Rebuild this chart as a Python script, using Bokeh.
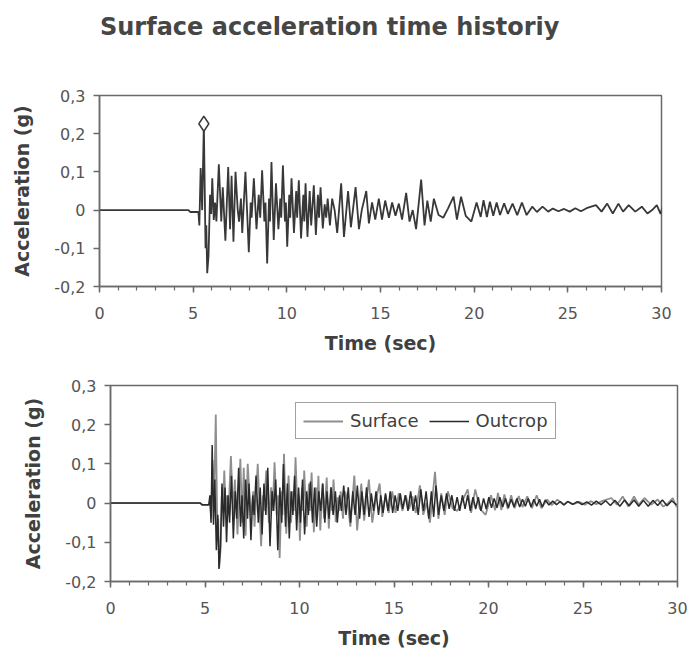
from bokeh.plotting import figure
from bokeh.models import Range1d, FixedTicker, CustomJSTickFormatter, Legend, LegendItem, Div
from bokeh.layouts import column, row
from bokeh.embed import file_html
from bokeh.resources import INLINE

# ---------------- DATA ----------------
title_text = "Surface acceleration time historiy"
x_label = "Time (sec)"
y_label = "Acceleration (g)"
x_ticks = [0, 5, 10, 15, 20, 25, 30]
x_minor = list(range(0, 31))
y_ticks = [-0.2, -0.1, 0.0, 0.1, 0.2, 0.3]

# Surface acceleration, turning points (time s, acceleration g)
surface_t = [0.0, 4.75, 4.85, 5.28, 5.33, 5.40, 5.48, 5.57, 5.66, 5.70, 5.75, 5.82, 5.90, 5.96,
             6.02, 6.10, 6.17, 6.24, 6.37, 6.50, 6.58, 6.72, 6.87, 6.97, 7.05, 7.15, 7.26, 7.38,
             7.45, 7.55, 7.62, 7.79, 7.97, 8.07, 8.12, 8.24, 8.38, 8.50, 8.58, 8.68, 8.80, 8.86,
             8.95, 9.05, 9.10, 9.18, 9.30, 9.42, 9.55, 9.65, 9.70, 9.79, 9.90, 9.95, 10.02, 10.13,
             10.18, 10.25, 10.38, 10.50, 10.55, 10.64, 10.76, 10.88, 10.93, 11.00, 11.10, 11.22,
             11.30, 11.44, 11.55, 11.66, 11.72, 11.80, 11.92, 12.02, 12.10, 12.18, 12.30, 12.42,
             12.55, 12.69, 12.90, 13.05, 13.27, 13.42, 13.67, 13.85, 14.00, 14.24, 14.38, 14.55,
             14.72, 14.91, 15.08, 15.25, 15.45, 15.62, 15.80, 15.98, 16.15, 16.37, 16.55, 16.72,
             16.90, 17.17, 17.35, 17.50, 17.68, 17.85, 18.10, 18.35, 18.60, 18.90, 19.08, 19.30,
             19.55, 19.85, 20.13, 20.35, 20.50, 20.68, 20.84, 21.02, 21.20, 21.38, 21.60, 21.80,
             22.05, 22.30, 22.55, 22.80, 23.10, 23.35, 23.65, 23.95, 24.20, 24.50, 24.80, 25.10,
             25.40, 25.70, 26.00, 26.50, 26.80, 27.10, 27.40, 27.70, 27.95, 28.25, 28.60, 28.95,
             29.25, 29.50, 29.75, 29.95, 30.10]
surface_a = [0.0, 0.0, -0.005, -0.005, -0.04, 0.11, 0.0, 0.226, -0.10, -0.04, -0.165, -0.12, 0.04, -0.01,
             0.083, -0.026, 0.02, -0.03, 0.12, -0.03, 0.06, -0.08, 0.113, -0.05, 0.09, -0.083, 0.10, 0.0,
             -0.03, 0.03, -0.06, 0.10, -0.11, 0.02, -0.02, 0.083, -0.05, 0.04, -0.02, 0.104, -0.03, 0.02,
             -0.14, 0.03, -0.03, 0.126, -0.078, 0.07, -0.05, 0.03, -0.02, 0.117, -0.03, 0.02, -0.096, 0.04,
             -0.02, 0.083, -0.06, 0.05, -0.02, 0.078, -0.074, 0.04, -0.03, 0.07, -0.07, 0.05,
             -0.04, 0.065, -0.065, 0.04, -0.02, 0.06, -0.048, 0.015, -0.02, 0.03, -0.04, 0.03,
             0.0, -0.06, 0.07, -0.07, 0.05, -0.045, 0.06, -0.05, 0.0, 0.05, -0.035, 0.02,
             -0.025, 0.03, -0.025, 0.025, -0.02, 0.02, -0.015, 0.017, -0.025, 0.045, -0.03, 0.0,
             -0.05, 0.08, -0.04, 0.025, -0.03, 0.03, -0.013, -0.02, 0.004, 0.035, -0.025, 0.035,
             -0.015, -0.03, 0.02, -0.018, 0.026, -0.018, 0.022, -0.015, 0.02, -0.013, 0.018, -0.01,
             0.017, -0.013, 0.02, -0.013, 0.009, -0.005, 0.009, -0.004, 0.004, -0.003, 0.003, -0.004,
             0.005, -0.003, 0.005, 0.013, -0.004, 0.017, -0.009, 0.017, -0.004, 0.013, -0.004, 0.009,
             -0.009, 0.0, 0.013, -0.01, 0.017]

# Outcrop acceleration, turning points (time s, acceleration g)
outcrop_t = [0.0, 4.75, 4.85, 5.20, 5.26, 5.32, 5.38, 5.45, 5.52, 5.60, 5.68, 5.74, 5.82, 5.90, 5.98,
             6.06, 6.14, 6.22, 6.30, 6.40, 6.50, 6.60, 6.68, 6.78, 6.88, 6.96, 7.05, 7.15, 7.25, 7.33,
             7.43, 7.53, 7.60, 7.70, 7.82, 7.92, 8.02, 8.12, 8.22, 8.32, 8.44, 8.55, 8.63, 8.74, 8.85,
             8.96, 9.06, 9.15, 9.26, 9.36, 9.46, 9.56, 9.65, 9.74, 9.85, 9.95, 10.05, 10.16, 10.27,
             10.38, 10.47, 10.58, 10.69, 10.80, 10.91, 11.02, 11.12, 11.23, 11.34, 11.45, 11.56,
             11.67, 11.78, 11.90, 12.00, 12.12, 12.22, 12.34, 12.46, 12.58, 12.70, 12.82, 12.94,
             13.06, 13.18, 13.30, 13.42, 13.55, 13.68, 13.80, 13.92, 14.05, 14.18, 14.30, 14.42,
             14.55, 14.68, 14.80, 14.93, 15.06, 15.20, 15.33, 15.46, 15.60, 15.74, 15.88, 16.01,
             16.14, 16.28, 16.42, 16.56, 16.70, 16.84, 16.98, 17.10, 17.22, 17.36, 17.50, 17.64,
             17.78, 17.92, 18.06, 18.20, 18.34, 18.48, 18.62, 18.76, 18.90, 19.04, 19.18, 19.32,
             19.46, 19.60, 19.74, 19.88, 20.02, 20.16, 20.30, 20.45, 20.60, 20.75, 20.90, 21.05,
             21.20, 21.35, 21.50, 21.65, 21.80, 21.95, 22.10, 22.25, 22.40, 22.55, 22.70, 22.85,
             23.00, 23.20, 23.40, 23.60, 23.80, 24.00, 24.20, 24.45, 24.70, 24.95, 25.20, 25.45,
             25.70, 25.95, 26.20, 26.45, 26.70, 26.95, 27.20, 27.45, 27.70, 27.95, 28.20, 28.45,
             28.70, 28.95, 29.20, 29.45, 29.70, 29.95]
outcrop_a = [0.0, 0.0, -0.004, -0.004, 0.02, -0.05, 0.148, -0.055, 0.06, -0.12, -0.03, -0.168, -0.11, 0.05, -0.06,
             0.04, -0.10, 0.02, -0.05, 0.07, -0.09, 0.03, -0.04, 0.09, -0.06, 0.02, -0.09, 0.06, -0.04, 0.05,
             -0.095, 0.02, -0.03, 0.07, -0.05, 0.04, -0.08, 0.05, -0.03, 0.09, -0.11, 0.03, -0.02, 0.06, -0.12,
             0.04, -0.05, 0.10, -0.06, 0.05, -0.09, 0.03, -0.03, 0.07, -0.07, 0.04, -0.05, 0.06, -0.08,
             0.03, -0.03, 0.055, -0.05, 0.04, -0.06, 0.03, -0.02, 0.05, -0.05, 0.03, -0.04,
             0.04, -0.03, 0.03, -0.05, 0.02, -0.02, 0.045, -0.03, 0.04, -0.05, 0.03, -0.03,
             0.045, -0.04, 0.03, -0.03, 0.04, -0.035, 0.025, -0.02, 0.03, -0.03, 0.02, -0.025,
             0.025, -0.02, 0.03, -0.025, 0.02, -0.02, 0.025, -0.015, 0.02, -0.02, 0.03, -0.02,
             0.02, -0.03, 0.035, -0.02, 0.03, -0.04, 0.03, -0.035, 0.045, -0.03, 0.02, -0.02,
             0.025, -0.015, 0.02, -0.02, 0.015, -0.02, 0.02, -0.015, 0.02, -0.02, 0.015, -0.015,
             0.015, -0.02, 0.012, -0.015, 0.015, -0.012, 0.012, -0.012, 0.015, -0.01, 0.012, -0.012,
             0.01, -0.01, 0.012, -0.01, 0.01, -0.008, 0.012, -0.01, 0.01, -0.008, 0.01, -0.01,
             0.008, -0.005, 0.005, -0.004, 0.004, -0.005, 0.004, -0.003, 0.004, -0.004, 0.003, -0.005,
             0.005, -0.004, 0.006, -0.006, 0.007, -0.008, 0.008, -0.007, 0.008, -0.008, 0.007, -0.008,
             0.007, -0.006, 0.008, -0.007, 0.006, -0.005]

legend_labels = ["Surface", "Outcrop"]

# ---------------- STYLE ----------------
W = 693
AXIS_COL = "#6a6a6a"
TICK_TXT = "#555555"
LABEL_TXT = "#404040"
SURF_TOP = "#383838"
SURF_GRAY = "#8e8e8e"
OUTCROP_COL = "#2a2a2a"

fmt = CustomJSTickFormatter(code="""
    if (Math.abs(tick) < 1e-9) { return '0'; }
    return tick.toFixed(1).replace('.', ',');
""")


def make_fig(height, left, right, top, bottom):
    p = figure(width=W, height=height, x_range=Range1d(0, 30), y_range=Range1d(-0.2, 0.3),
               output_backend="svg", toolbar_location=None,
               min_border_left=left, min_border_right=right,
               min_border_top=top, min_border_bottom=bottom)
    p.xgrid.visible = False
    p.ygrid.visible = False
    p.background_fill_color = "white"
    p.border_fill_color = "white"
    p.outline_line_color = AXIS_COL
    p.outline_line_width = 1.5

    p.xaxis.ticker = FixedTicker(ticks=x_ticks, minor_ticks=x_minor)
    p.yaxis.ticker = FixedTicker(ticks=y_ticks)
    p.yaxis.formatter = fmt

    for ax in (p.xaxis, p.yaxis):
        ax.axis_line_color = AXIS_COL
        ax.axis_line_width = 1.5
        ax.major_tick_line_color = AXIS_COL
        ax.major_tick_line_width = 1.5
        ax.major_tick_in = 0
        ax.major_tick_out = 6
        ax.major_label_text_font = "DejaVu Sans"
        ax.major_label_text_font_size = "16px"
        ax.major_label_text_color = TICK_TXT
        ax.axis_label_text_font = "DejaVu Sans"
        ax.axis_label_text_font_size = "19px"
        ax.axis_label_text_font_style = "bold"
        ax.axis_label_text_color = LABEL_TXT
    p.xaxis.minor_tick_line_color = AXIS_COL
    p.xaxis.minor_tick_line_width = 1.2
    p.xaxis.minor_tick_in = 0
    p.xaxis.minor_tick_out = 4
    p.yaxis.minor_tick_line_color = None
    p.xaxis.major_label_standoff = 14
    p.xaxis.axis_label_standoff = 10
    p.yaxis.major_label_standoff = 8
    p.yaxis.axis_label_standoff = 18
    p.xaxis.axis_label = x_label
    p.yaxis.axis_label = y_label
    return p


title_div = Div(
    text=('<div style="font-family:\'DejaVu Sans\';font-weight:bold;font-size:24px;'
          'color:#464646;padding-left:100px;padding-top:10px;white-space:nowrap;">'
          + title_text + '</div>'),
    width=W, height=50, margin=0)

# Top plot: surface only, with the peak marked
p1 = make_fig(310, 99, 32, 45, 74)
p1.line(surface_t, surface_a, line_color=SURF_TOP, line_width=1.8)
imax = max(range(len(surface_a)), key=lambda i: surface_a[i])
p1.scatter([surface_t[imax]], [surface_a[imax]], marker="diamond", size=15,
           fill_color="white", line_color="#3a3a3a", line_width=1.5)

# Bottom plot: surface vs outcrop
p2 = make_fig(294, 110, 16, 25, 73)
r_s = p2.line(surface_t, surface_a, line_color=SURF_GRAY, line_width=1.8)
r_o = p2.line(outcrop_t, outcrop_a, line_color=OUTCROP_COL, line_width=1.5)
legend = Legend(items=[LegendItem(label=legend_labels[0], renderers=[r_s]),
                       LegendItem(label=legend_labels[1], renderers=[r_o])],
                orientation="horizontal", location=(185, 142),
                glyph_width=40, glyph_height=18, label_standoff=7, spacing=10,
                padding=7, margin=0,
                label_text_font="DejaVu Sans", label_text_font_size="18px",
                label_text_color=LABEL_TXT,
                border_line_color="#444444", border_line_width=1.5,
                background_fill_color="white", background_fill_alpha=1.0)
p2.add_layout(legend, "center")

layout = column(title_div, row(p1), row(p2), spacing=0)
open("out.html", "w").write(file_html(layout, INLINE))
